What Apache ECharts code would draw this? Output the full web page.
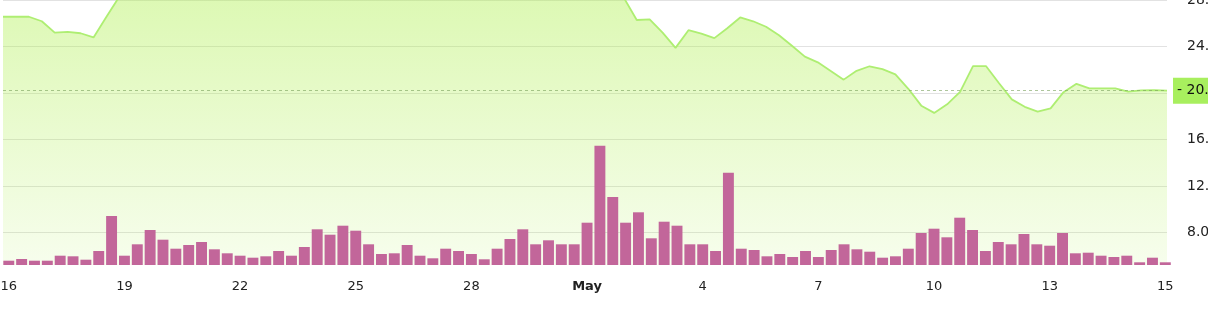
<!DOCTYPE html>
<html><head><meta charset="utf-8">
<script src="https://cdn.jsdelivr.net/npm/echarts@6/dist/echarts.min.js"></script>
<style>html,body{margin:0;padding:0;background:#fff}#c{width:1208px;height:327px;overflow:hidden}</style>
</head><body><div id="c"></div>
<script>
// price (line) values, one per 8-hour period, Apr 16 – May 15
const priceValues = [
  26.56, 26.56, 26.56, 26.17, 25.19, 25.25, 25.14, 24.78, 26.56, 28.3,
  29.9, 30.4, 31.2, 31.0, 30.6, 31.4, 32.0, 31.5, 30.8, 30.2,
  30.9, 31.6, 32.3, 32.8, 32.1, 31.4, 31.9, 32.6, 33.1, 32.7,
  32.0, 31.5, 31.8, 32.4, 33.0, 33.6, 34.1, 33.5, 32.8, 32.2,
  31.6, 31.2, 30.9, 30.6, 30.3, 30.0, 29.7, 29.2, 28.2, 26.28,
  26.34, 25.19, 23.88, 25.4, 25.11, 24.72, 25.57, 26.5, 26.17, 25.70,
  24.97, 24.06, 23.13, 22.64, 21.9, 21.15, 21.91, 22.3, 22.06, 21.6,
  20.36, 18.91, 18.29, 19.03, 20.1, 22.32, 22.32, 20.86, 19.45, 18.81,
  18.39, 18.68, 20.07, 20.79, 20.4, 20.4, 20.4, 20.12, 20.22, 20.24,
  20.2
];
// volume (bar) values, same periods
const volumeValues = [
  4.3, 6, 4.3, 4.3, 9.3, 8.7, 5.3, 14, 49, 9.3, 20.7, 35, 25.3, 16.3, 20, 23, 15.7, 11.7, 9.3, 7.3,
  8.7, 14, 9.3, 18, 35.7, 30.3, 39.3, 34.3, 20.7, 11, 11.7,
  20, 9.3, 6.7, 16.3, 14, 11, 5.7, 16.3, 26, 35.7, 20.7, 24.7, 20.7, 20.7, 42.3, 119.3, 68, 42.3, 52.7,
  26.7, 43.3, 39.3, 20.7, 20.7, 14, 92.3, 16.3, 15, 8.7, 11, 8,
  14, 8, 15, 20.7, 15.7, 13.3, 7.3, 8.7, 16.3, 32, 36.3, 27.7, 47.3, 35, 14, 23, 20.7, 31, 20.7, 19.3,
  32, 11.7, 12.3, 9.3, 8, 9.3, 2.7, 7.3, 2.7
];
const lastPrice = 20.2;
const tickIndex = [0, 9, 18, 27, 36, 45, 54, 63, 72, 81, 90];
const tickText = ['16', '19', '22', '25', '28', 'May', '4', '7', '10', '13', '15'];

const categories = [];
for (let i = 0; i < priceValues.length; i++) {
  const t = new Date(2024, 3, 16, i * 8);
  categories.push((t.getMonth() + 1) + '/' + t.getDate() + ' ' + String(t.getHours()).padStart(2, '0') + ':00');
}

const FONT = 'DejaVu Sans';
const chart = echarts.init(document.getElementById('c'), null, {renderer: 'canvas'});
chart.setOption({
  animation: false,
  backgroundColor: '#fff',
  grid: [
    {left: 3, right: 41, top: 0, bottom: 48, containLabel: false, outerBoundsMode: 'none'},
    {left: 2.35, right: 36.25, top: 100, bottom: 62, containLabel: false, outerBoundsMode: 'none'}
  ],
  xAxis: [
    {type: 'category', gridIndex: 0, data: categories, boundaryGap: false, show: false},
    {type: 'category', gridIndex: 1, data: categories, boundaryGap: true,
     axisLine: {show: false}, axisTick: {show: false}, splitLine: {show: false},
     axisLabel: {
       interval: (i) => tickIndex.indexOf(i) >= 0,
       formatter: (v, i) => {
         const k = tickIndex.indexOf(i);
         if (k < 0) return '';
         const s = tickText[k];
         return s === 'May' ? '{b|May}' : s;
       },
       margin: 14, color: '#222', fontSize: 13, fontFamily: FONT, lineHeight: 15,
       rich: {b: {fontWeight: 'bold', fontSize: 13, fontFamily: FONT, color: '#222'}}
     }}
  ],
  yAxis: [
    {type: 'value', gridIndex: 0, position: 'right', min: 4, max: 28, interval: 4,
     axisLine: {show: false}, axisTick: {show: false},
     splitLine: {show: true, showMinLine: false, lineStyle: {color: '#e2e2e2', width: 1}},
     axisLabel: {showMinLabel: false, margin: 20, color: '#222', fontSize: 14, fontFamily: FONT,
       formatter: (v) => v.toFixed(2)}},
    {type: 'value', gridIndex: 1, min: 0, max: 165, show: false}
  ],
  series: [
    {type: 'line', xAxisIndex: 0, yAxisIndex: 0, data: priceValues, symbol: 'none', z: 2,
     lineStyle: {color: '#aeee72', width: 1.8},
     areaStyle: {origin: 5.2, color: {type: 'linear', x: 0, y: 0, x2: 0, y2: 265, global: true,
       colorStops: [{offset: 0, color: 'rgba(171,239,71,0.58)'}, {offset: 1, color: 'rgba(171,239,71,0.14)'}]}},
     markLine: {symbol: 'none', silent: true, animation: false,
       data: [{yAxis: lastPrice}],
       lineStyle: {type: [3, 3], color: 'rgba(120,160,90,0.6)', width: 1},
       label: {position: 'end', distance: 6, formatter: '- ' + lastPrice.toFixed(2),
         backgroundColor: '#a8ef5e', color: '#111', padding: [6, 4, 6, 4],
         fontSize: 14, fontFamily: FONT, lineHeight: 14}}},
    {type: 'bar', xAxisIndex: 1, yAxisIndex: 1, data: volumeValues, z: 3,
     barCategoryGap: '15%', itemStyle: {color: '#c2669a'}}
  ]
});
</script></body></html>
